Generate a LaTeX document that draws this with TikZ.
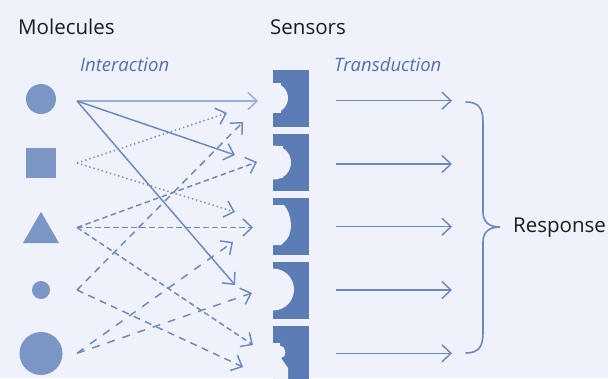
\documentclass[tikz,border=0pt]{standalone}
\usepackage{fontspec}
\setmainfont{Open Sans}
\usetikzlibrary{arrows.meta,shapes.geometric}
\definecolor{bg}{RGB}{239,242,250}
\definecolor{mol}{RGB}{123,150,196}
\definecolor{sens}{RGB}{92,124,181}
\definecolor{arr}{RGB}{107,136,192}
\definecolor{arrlight}{RGB}{150,174,218}
\definecolor{lab}{RGB}{84,112,172}
\definecolor{txt}{RGB}{28,28,28}
\begin{document}
\begin{tikzpicture}[x=1pt,y=-1pt,
  molshape/.style={fill=mol,draw=none,inner sep=0pt,outer sep=0pt},
  sensorbox/.style={fill=sens,draw=none,minimum width=36pt,minimum height=57pt,inner sep=0pt,outer sep=0pt},
  pocket/.style={fill=bg,draw=none},
  conn/.style={draw=arr,line width=1.45pt,-{Straight Barb[length=9pt,width=17pt]}},
  lightconn/.style={conn,draw=arrlight},
  dotconn/.style={conn,dash pattern=on 1.3pt off 3pt},
  shortdash/.style={conn,dash pattern=on 5.5pt off 3.5pt},
  middash/.style={conn,dash pattern=on 7pt off 5.5pt},
  longdash/.style={conn,dash pattern=on 8pt off 8pt},
  heading/.style={anchor=base west,inner sep=0pt,text=txt,font=\fontsize{20.5}{24}\selectfont},
  steplabel/.style={anchor=base west,inner sep=0pt,text=lab,font=\fontsize{18.5}{22}\selectfont\itshape},
  bracestyle/.style={draw=arr,line width=1.6pt,line cap=round}
]
\fill[bg] (0,0) rectangle (608,378);
\useasboundingbox (0,0) rectangle (608,378);

% headings
\node[heading] (tmol) at (18,34) {Molecules};
\node[heading] (tsen) at (270,34) {Sensors};
\node[steplabel] (tint) at (80,71) {Interaction};
\node[steplabel] (ttra) at (334,71) {Transduction};
\node[heading,anchor=west] (tres) at (513,228) {Response};

% molecules
\node[molshape,circle,minimum size=30pt] (m1) at (41,99) {};
\node[molshape,rectangle,minimum size=30pt] (m2) at (41,163) {};
\node[molshape,regular polygon,regular polygon sides=3,minimum size=41.6pt] (m3) at (41,232.6) {};
\node[molshape,circle,minimum size=18pt] (m4) at (41,290) {};
\node[molshape,circle,minimum size=43pt] (m5) at (41,353.5) {};

% sensors
\node[sensorbox] (s1) at (291,98.5) {};
\node[sensorbox] (s2) at (291,162) {};
\node[sensorbox] (s3) at (291,226) {};
\node[sensorbox] (s4) at (291,290) {};
\node[sensorbox] (s5) at (291,354.5) {};

% pockets
\fill[pocket] (273,83) rectangle (281,113);
\fill[pocket] (273,98) circle[radius=15];
\fill[pocket] (273,146) rectangle (283,178);
\fill[pocket] (274,162.5) circle[radius=17];
\fill[pocket] (273,205) -- (284,205) .. controls (292,214) and (293,232) .. (287,239) -- (281,245) -- (273,245) -- cycle;
\fill[pocket] (273,289.5) circle[radius=21];
\fill[pocket] (273,343) -- (280,343) -- (280,346) .. controls (287,346) and (287,358) .. (281,358) -- (288,368) -- (288,384) -- (273,384) -- cycle;

% connector end points
\coordinate (o1) at (77,101);
\coordinate (o2) at (77,163);
\coordinate (o3) at (77,227.5);
\coordinate (o4) at (77,290);
\coordinate (o5) at (77,353.3);

\coordinate (a1) at (258,101);
\coordinate (a2) at (235,155);
\coordinate (a3) at (235,285);
\coordinate (a4) at (227,113);
\coordinate (a5) at (235,212);
\coordinate (a6) at (257,162);
\coordinate (a7) at (253,227.5);
\coordinate (a8) at (253,345);
\coordinate (a9) at (243,122);
\coordinate (a10) at (243,367);
\coordinate (a11) at (233,242);
\coordinate (a12) at (252,293);

% interaction connectors
\draw[lightconn] (o1) -- (a1);
\draw[conn] (o1) -- (a2);
\draw[conn] (o1) -- (a3);
\draw[dotconn] (o2) -- (a4);
\draw[dotconn] (o2) -- (a5);
\draw[shortdash] (o3) -- (a6);
\draw[shortdash] (o3) -- (a7);
\draw[shortdash] (o3) -- (a8);
\draw[middash] (o4) -- (a9);
\draw[middash] (o4) -- (a10);
\draw[longdash] (o5) -- (a11);
\draw[longdash] (o5) -- (a12);

% transduction connectors
\foreach \i/\y in {1/100.7,2/164,3/226.7,4/290,5/353.3}{
  \coordinate (p\i) at (336,\y);
  \coordinate (q\i) at (452,\y);
  \draw[conn] (p\i) -- (q\i);
}

% brace
\coordinate (btop) at (466,102);
\coordinate (btip) at (500,227);
\coordinate (bbot) at (466,353);
\draw[bracestyle] (btop) .. controls (479,102) and (483,109) .. (483,122)
  -- (483,212) .. controls (483,222) and (489,227) .. (btip)
  .. controls (489,227) and (483,232) .. (483,242)
  -- (483,333) .. controls (483,346) and (479,353) .. (bbot);
\end{tikzpicture}
\end{document}
